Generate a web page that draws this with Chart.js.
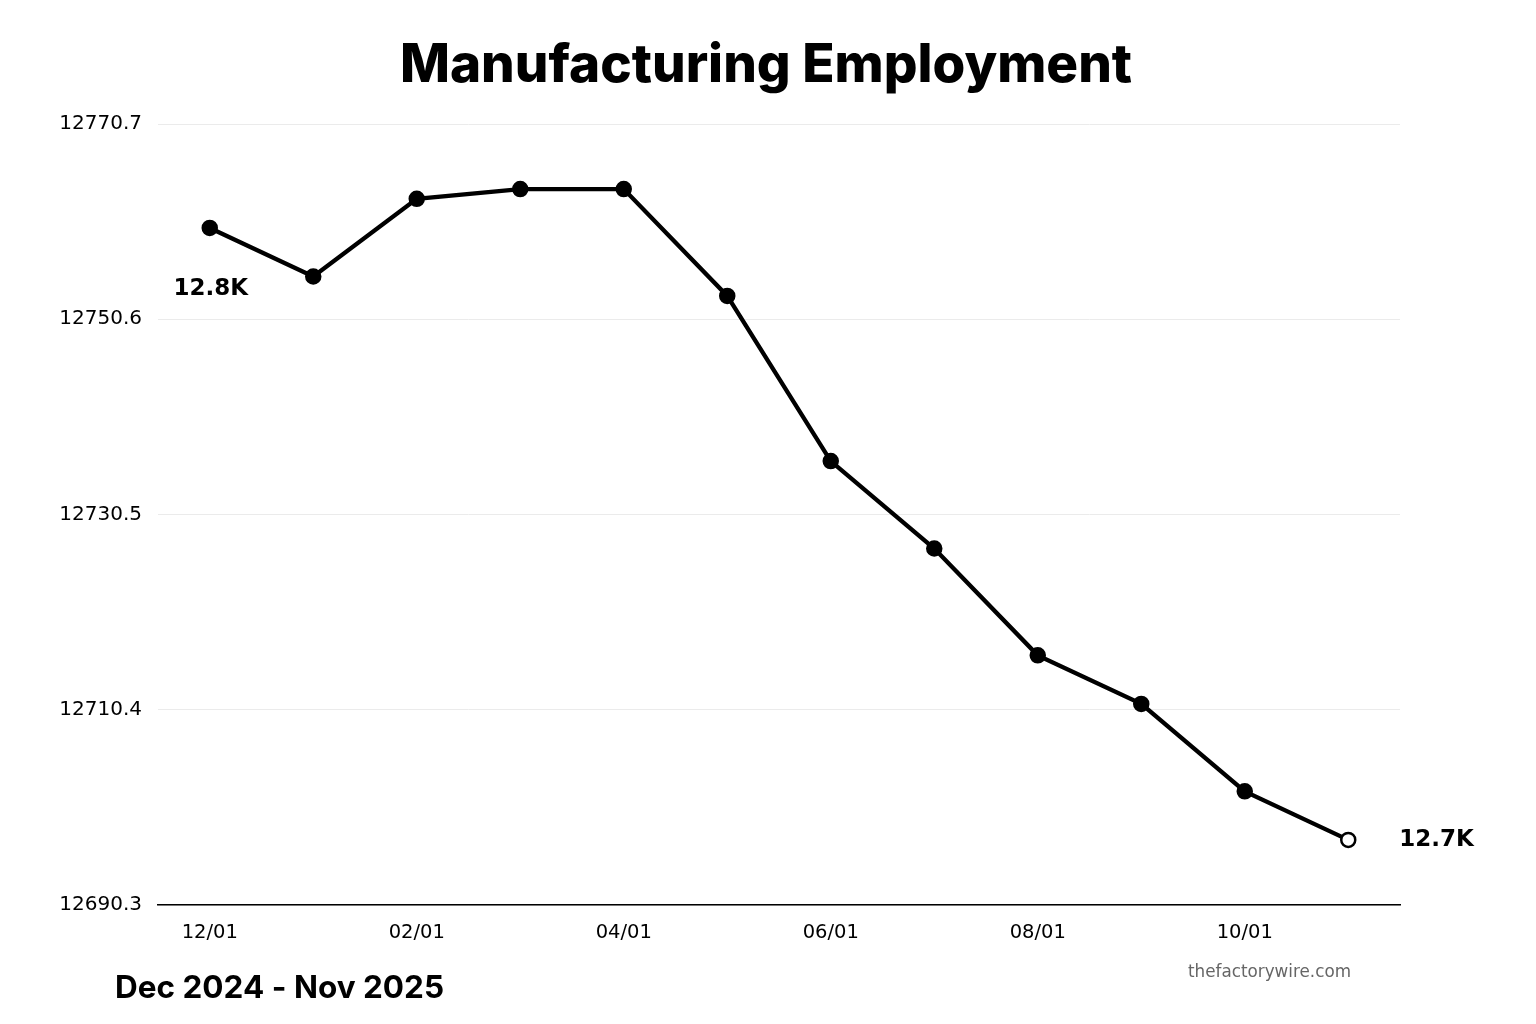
<!DOCTYPE html>
<html>
<head>
<meta charset="utf-8">
<script src="https://cdn.jsdelivr.net/npm/chart.js@4.4.1/dist/chart.umd.min.js"></script>
<style>
  html, body { margin: 0; padding: 0; background: #fff; }
  #wrap { width: 1536px; height: 1024px; position: relative; }
</style>
</head>
<body>
<div id="wrap"><canvas id="chart1"></canvas></div>
<script>
// Données
const months = ['12/01', '01/01', '02/01', '03/01', '04/01', '05/01', '06/01', '07/01', '08/01', '09/01', '10/01', '11/01'];
const employment = [12760, 12755, 12763, 12764, 12764, 12753, 12736, 12727, 12716, 12711, 12702, 12697];
const yTicks = [12690.3, 12710.4, 12730.5, 12750.6, 12770.7];

const titleText = 'Manufacturing Employment';
const periodText = 'Dec 2024 - Nov 2025';
const sourceText = 'thefactorywire.com';

// Couleur des points : le dernier est creux
let pointFill = employment.map((v, i) => i === employment.length - 1 ? '#ffffff' : '#000000');

function fmtK(v) {
    return (v / 1000).toFixed(1) + 'K';
}

// Textes autour du graphique
const extraText = {
    id: 'extraText',
    afterDraw(chart) {
        const ctx = chart.ctx;
        const meta = chart.getDatasetMeta(0);
        const first = meta.data[0];
        const last = meta.data[meta.data.length - 1];
        ctx.save();
        ctx.fillStyle = '#000';
        ctx.textBaseline = 'middle';

        ctx.font = '800 53px Inter';
        ctx.textAlign = 'center';
        ctx.fillText(titleText, 766, 66);

        ctx.font = 'bold 23px "DejaVu Sans"';
        ctx.fillText(fmtK(employment[0]), first.x + 1, first.y + 61);
        ctx.textAlign = 'left';
        ctx.fillText(fmtK(employment[employment.length - 1]), last.x + 51, last.y);

        ctx.font = '700 31.5px Inter';
        ctx.fillText(periodText, 115, 989);

        ctx.font = '16.8px "DejaVu Sans"';
        ctx.fillStyle = '#666';
        ctx.textAlign = 'right';
        ctx.fillText(sourceText, 1351, 973);
        ctx.restore();
    }
};

const config = {
    type: 'line',
    data: {
        labels: months,
        datasets: [{
            data: employment,
            borderColor: '#000',
            borderWidth: 4.3,
            tension: 0,
            pointRadius: 7,
            pointBackgroundColor: pointFill,
            pointBorderColor: '#000',
            pointBorderWidth: 2.5
        }]
    },
    options: {
        responsive: false,
        animation: false,
        layout: { padding: { top: 124, right: 136, left: 0, bottom: 0 } },
        plugins: {
            legend: { display: false },
            tooltip: { enabled: false }
        },
        scales: {
            x: {
                offset: true,
                grid: { display: false, drawTicks: false },
                border: { display: true, color: '#000', width: 1.5 },
                afterFit(scale) { scale.height = 119; },
                ticks: {
                    autoSkip: false,
                    maxRotation: 0,
                    padding: 16,
                    color: '#000',
                    font: { family: 'DejaVu Sans', size: 19.5 },
                    callback: function(val, index) {
                        return index % 2 === 0 ? this.getLabelForValue(val) : '';
                    }
                }
            },
            y: {
                min: yTicks[0],
                max: yTicks[yTicks.length - 1],
                afterBuildTicks(scale) {
                    scale.ticks = yTicks.map(v => ({ value: v }));
                },
                afterFit(scale) { scale.width = 158; },
                grid: { color: '#ebebeb', lineWidth: 1, drawTicks: false },
                border: { display: false },
                ticks: {
                    padding: 16,
                    color: '#000',
                    font: { family: 'DejaVu Sans', size: 20 },
                    callback: v => v.toFixed(1)
                }
            }
        }
    },
    plugins: [extraText]
};

const canvas1 = document.getElementById('chart1');
canvas1.width = 1536;
canvas1.height = 1024;
const chartOne = new Chart(canvas1, config);
</script>
</body>
</html>
